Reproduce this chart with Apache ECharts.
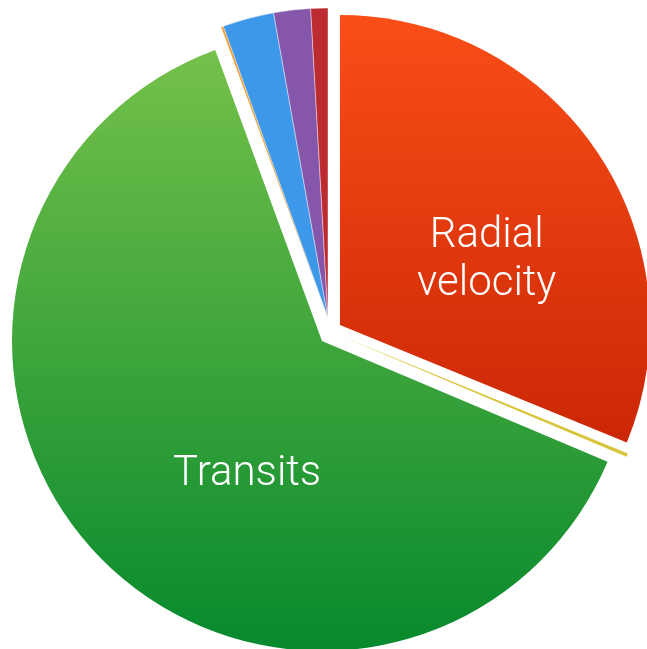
<!DOCTYPE html>
<html>
<head>
<meta charset="utf-8">
<script src="https://cdn.jsdelivr.net/npm/echarts@6/dist/echarts.min.js"></script>
<style>
html,body{margin:0;padding:0;background:#fff;}
#chart{width:647px;height:649px;}
</style>
</head>
<body>
<div id="chart"></div>
<script>
// Data
const categories = ['Radial velocity', 'Astrometry', 'Transits', 'Orbital brightness modulation', 'Microlensing', 'Imaging', 'Timing'];
const values = [31.2, 0.17, 63.05, 0.12, 2.67, 1.92, 0.89];
const shownLabels = ['Radial velocity', 'Transits'];
const labelTexts = ['Radial\nvelocity', '', 'Transits', '', '', '', ''];

// Styling (not data)
const colors = [
  {type:'linear', x:0, y:0, x2:0, y2:1, colorStops:[{offset:0,color:'#f94e17'},{offset:1,color:'#cb2706'}]},
  '#d8c43a',
  {type:'linear', x:0, y:0, x2:0, y2:1, colorStops:[{offset:0,color:'#74c14a'},{offset:1,color:'#07892d'}]},
  '#f2a03a',
  '#3e98ea',
  '#8656aa',
  '#bc2b30'
];
// groups drawn with their own (exploded) centre
const groups = [
  {members:[0], center:[340,325], padding:[0,0,0,31]},
  {members:[1], center:[341,336]},
  {members:[2], center:[322,341], padding:[0,0,0,79]},
  {members:[3,4,5,6], center:[328,318]}
];

const series = groups.map(g => ({
  type:'pie',
  center:g.center,
  radius:[0,310],
  startAngle:90,
  clockwise:true,
  animation:false,
  silent:true,
  avoidLabelOverlap:false,
  labelLine:{show:false},
  data: categories.map((name,i) => {
    const member = g.members.includes(i);
    const showLabel = member && shownLabels.includes(name);
    return {
      name,
      value: values[i],
      itemStyle: member ? {color: colors[i], borderWidth: (i>=4 ? 0.6 : 0), borderColor:'rgba(255,255,255,0.7)'} : {color:'rgba(0,0,0,0)', borderWidth:0},
      label: showLabel ? {
        show:true,
        position:'inside',
        formatter: '\n' + labelTexts[i],
        color:'#ffffff',
        fontFamily:'Roboto, "Liberation Sans", Arial, sans-serif',
        fontWeight:300,
        fontSize:42,
        lineHeight:48,
        align:'center',
        padding:g.padding
      } : {show:false}
    };
  })
}));

const chart = echarts.init(document.getElementById('chart'), null, {renderer:'canvas'});
chart.setOption({
  backgroundColor:'#ffffff',
  series
});
</script>
</body>
</html>
